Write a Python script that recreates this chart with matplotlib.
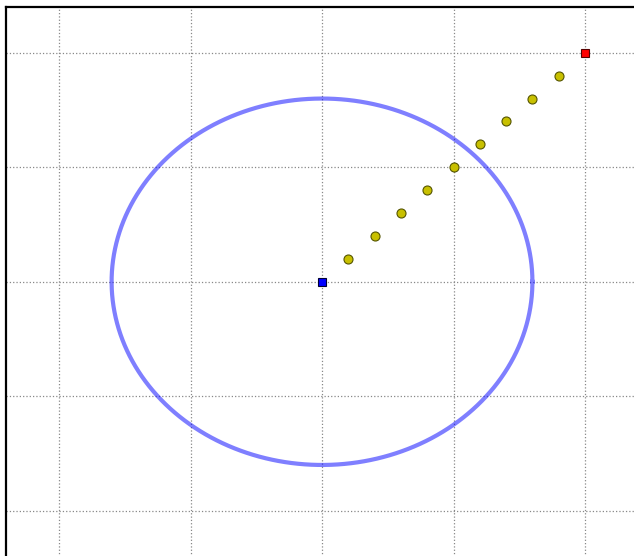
#!/usr/bin/env python3
"""Circle of radius 1.6 with a dotted path from the centre to (2, 2)."""

import numpy as np
import matplotlib
matplotlib.use("Agg")
import matplotlib.pyplot as plt

# data
center = (0.0, 0.0)
target = (2.0, 2.0)
radius = 1.6
path_x = [0.2, 0.4, 0.6, 0.8, 1.0, 1.2, 1.4, 1.6, 1.8]
path_y = [0.2, 0.4, 0.6, 0.8, 1.0, 1.2, 1.4, 1.6, 1.8]
grid_ticks = [-2, -1, 0, 1, 2]


def main() -> None:
    fig = plt.figure(figsize=(6.34, 5.56), dpi=100)
    ax = fig.add_axes([0.0101, -0.001, 0.9956, 0.9885])

    theta = np.linspace(0, 2 * np.pi, 400)
    ax.plot(center[0] + radius * np.cos(theta), center[1] + radius * np.sin(theta),
            color="blue", alpha=0.5, lw=3, zorder=2)

    ax.plot(path_x, path_y, "o", ms=6.5, mfc="#c8c000", mec="#555500", mew=0.8, zorder=3)
    ax.plot(*center, "s", ms=6, mfc="blue", mec="#000033", mew=0.8, zorder=4)
    ax.plot(*target, "s", ms=6, mfc="red", mec="#550000", mew=0.8, zorder=4)

    ax.set_xlim(-2.4, 2.4)
    ax.set_ylim(-2.4, 2.4)
    ax.set_xticks(grid_ticks)
    ax.set_yticks(grid_ticks)
    ax.tick_params(length=0, labelbottom=False, labelleft=False)
    ax.grid(True, ls=":", color="#888888", lw=0.9)
    # the axes run past the right and bottom edges of the picture
    ax.spines["right"].set_visible(False)
    ax.spines["bottom"].set_visible(False)
    for side in ("left", "top"):
        ax.spines[side].set_linewidth(1.6)

    fig.savefig("out.png", dpi=100)


if __name__ == "__main__":
    main()
